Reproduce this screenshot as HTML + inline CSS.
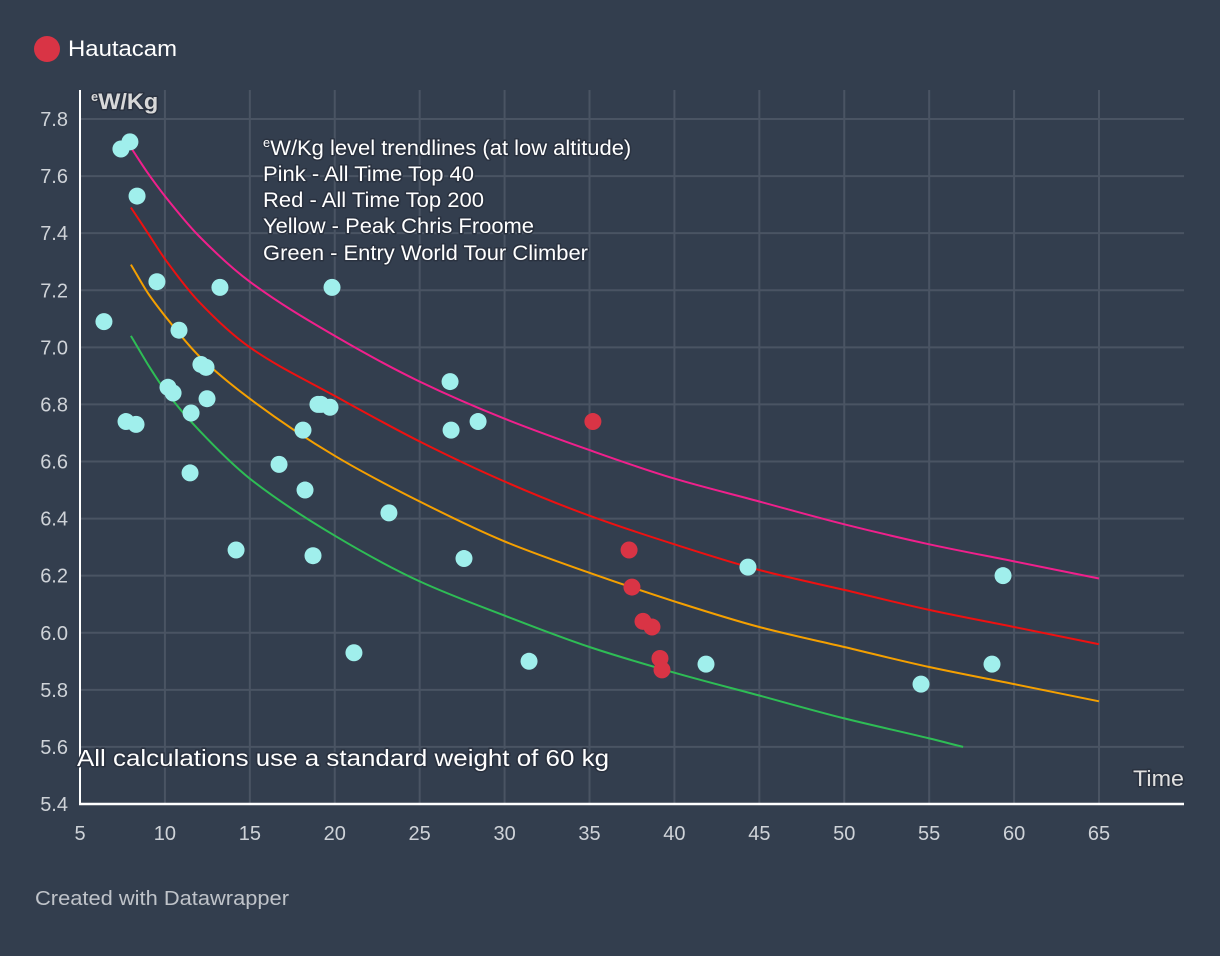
<!DOCTYPE html>
<html><head><meta charset="utf-8"><style>
html,body{margin:0;padding:0;background:#333e4e;}
svg{display:block;font-family:"Liberation Sans",sans-serif;}
.halo{paint-order:stroke;stroke:#2a3240;stroke-width:3px;stroke-linejoin:round;}
</style></head><body>
<svg id="chart" width="1220" height="956" viewBox="0 0 1220 956">
<rect width="1220" height="956" fill="#333e4e"/>
<g>
<circle cx="47" cy="49" r="13" fill="#d93445"/>
<text x="68" y="56" font-size="22" fill="#ffffff" textLength="109" lengthAdjust="spacingAndGlyphs">Hautacam</text>
</g>
<g id="grid"></g>
<g id="trends"></g>
<g id="points"></g>
<g id="axes"></g>
<text x="91" y="109" font-size="22" font-weight="bold" fill="#d8d8d8" class="halo"><tspan font-size="13" dy="-8">e</tspan><tspan dy="8" textLength="60" lengthAdjust="spacingAndGlyphs">W/Kg</tspan></text>
<g font-size="21" fill="#ffffff" class="halo">
<text x="263" y="155"><tspan font-size="13" dy="-8">e</tspan><tspan dy="8" textLength="361" lengthAdjust="spacingAndGlyphs">W/Kg level trendlines (at low altitude)</tspan></text>
<text x="263" y="181" textLength="211" lengthAdjust="spacingAndGlyphs">Pink - All Time Top 40</text>
<text x="263" y="207" textLength="221" lengthAdjust="spacingAndGlyphs">Red - All Time Top 200</text>
<text x="263" y="233" textLength="271" lengthAdjust="spacingAndGlyphs">Yellow - Peak Chris Froome</text>
<text x="263" y="260" textLength="325" lengthAdjust="spacingAndGlyphs">Green - Entry World Tour Climber</text>
</g>
<text x="77" y="766" font-size="23" fill="#ffffff" class="halo" textLength="532" lengthAdjust="spacingAndGlyphs">All calculations use a standard weight of 60 kg</text>
<text x="1133" y="786" font-size="22" fill="#e0e0e0" class="halo" textLength="51" lengthAdjust="spacingAndGlyphs">Time</text>
<text x="35" y="905" font-size="20" fill="#bfc3c9" textLength="254" lengthAdjust="spacingAndGlyphs">Created with Datawrapper</text>
</svg>
<script>
const xTicks = [5,10,15,20,25,30,35,40,45,50,55,60,65];
const yTicks = [5.4,5.6,5.8,6.0,6.2,6.4,6.6,6.8,7.0,7.2,7.4,7.6,7.8];
const otherX = [7.41,7.94,8.36,9.53,6.41,13.24,19.84,10.83,10.18,10.48,12.12,12.42,12.48,11.54,7.71,8.30,11.48,14.19,16.72,18.13,19.01,19.19,19.72,18.25,18.72,21.13,23.19,26.79,26.85,28.44,27.61,31.44,41.86,44.33,54.52,58.70,59.35];
const otherY = [7.695,7.72,7.53,7.23,7.09,7.21,7.21,7.06,6.86,6.84,6.94,6.93,6.82,6.77,6.74,6.73,6.56,6.29,6.59,6.71,6.80,6.80,6.79,6.50,6.27,5.93,6.42,6.88,6.71,6.74,6.26,5.90,5.89,6.23,5.82,5.89,6.20];
const hautX = [35.2,37.33,37.5,38.15,38.68,39.15,39.27];
const hautY = [6.74,6.29,6.16,6.04,6.02,5.91,5.87];
const trendX = [8,9,10,12,15,20,25,30,35,40,45,50,55,60,65];
const pinkY = [7.70,7.61,7.53,7.39,7.23,7.04,6.88,6.75,6.64,6.54,6.46,6.38,6.31,6.25,6.19];
const redY = [7.49,7.40,7.31,7.16,7.00,6.83,6.67,6.53,6.41,6.31,6.22,6.15,6.08,6.02,5.96];
const yellowY = [7.29,7.19,7.11,6.97,6.82,6.62,6.46,6.32,6.21,6.11,6.02,5.95,5.88,5.82,5.76];
const greenX = [8,9,10,12,15,20,25,30,35,40,45,50,55,57];
const greenY = [7.04,6.94,6.85,6.71,6.54,6.34,6.18,6.06,5.95,5.86,5.78,5.70,5.63,5.60];

const NS = 'http://www.w3.org/2000/svg';
const sx = v => 80 + (v - 5) * (1019 / 60);
const sy = v => 119 + (7.8 - v) * (685 / 2.4);
function mk(tag, attrs, parent){const e=document.createElementNS(NS,tag);for(const k in attrs)e.setAttribute(k,attrs[k]);parent.appendChild(e);return e;}
const grid=document.getElementById('grid'), axes=document.getElementById('axes');
xTicks.forEach(t=>{
  const l=mk('line',{x1:sx(t),x2:sx(t),y1:90,y2:804,stroke:'#4a5463','stroke-width':2},grid);
  
  
  const tx=mk('text',{x:sx(t),y:840,'font-size':20,fill:'#cfd3d8','text-anchor':'middle'},axes);
  tx.textContent=t;
  
  
});
yTicks.forEach(t=>{
  const l=mk('line',{x1:80,x2:1184,y1:sy(t),y2:sy(t),stroke:'#4a5463','stroke-width':2},grid);
  
  
  const tx=mk('text',{x:68,y:sy(t)+7,'font-size':20,fill:'#cfd3d8','text-anchor':'end'},axes);
  tx.textContent=t.toFixed(1);
  
  
});
const ya=mk('line',{x1:80,x2:80,y1:90,y2:805,stroke:'#ffffff','stroke-width':2},axes);


const xa=mk('line',{x1:79,x2:1184,y1:804,y2:804,stroke:'#ffffff','stroke-width':2.5},axes);



const trends=document.getElementById('trends');
function trend(xs,ys,color,name){
  const P=xs.map((x,i)=>[sx(x),sy(ys[i])]);
  const n=P.length, m=[], t=[];
  for(let i=0;i<n-1;i++) m.push((P[i+1][1]-P[i][1])/(P[i+1][0]-P[i][0]));
  for(let i=0;i<n;i++){
    if(i===0) t.push(m[0]); else if(i===n-1) t.push(m[n-2]);
    else t.push(m[i-1]*m[i]<=0?0:2/(1/m[i-1]+1/m[i]));
  }
  let d='M'+P[0][0].toFixed(1)+','+P[0][1].toFixed(1);
  for(let i=0;i<n-1;i++){
    const h=(P[i+1][0]-P[i][0])/3;
    d+=' C'+(P[i][0]+h).toFixed(1)+','+(P[i][1]+t[i]*h).toFixed(1)+' '+(P[i+1][0]-h).toFixed(1)+','+(P[i+1][1]-t[i+1]*h).toFixed(1)+' '+P[i+1][0].toFixed(1)+','+P[i+1][1].toFixed(1);
  }
  const p=mk('path',{d:d,fill:'none',stroke:color,'stroke-width':2},trends);
  
  
}
trend(trendX,pinkY,'#f0208c','trendline-pink');
trend(trendX,redY,'#ee1111','trendline-red');
trend(trendX,yellowY,'#f5a000','trendline-yellow');
trend(greenX,greenY,'#2ebd55','trendline-green');

const pts=document.getElementById('points');
otherX.forEach((x,i)=>{
  const c=mk('circle',{cx:sx(x),cy:sy(otherY[i]),r:8.5,fill:'#a0efec'},pts);
  
  
});
hautX.forEach((x,i)=>{
  const c=mk('circle',{cx:sx(x),cy:sy(hautY[i]),r:8.5,fill:'#d93445'},pts);
  
  
});
</script>
</body></html>
